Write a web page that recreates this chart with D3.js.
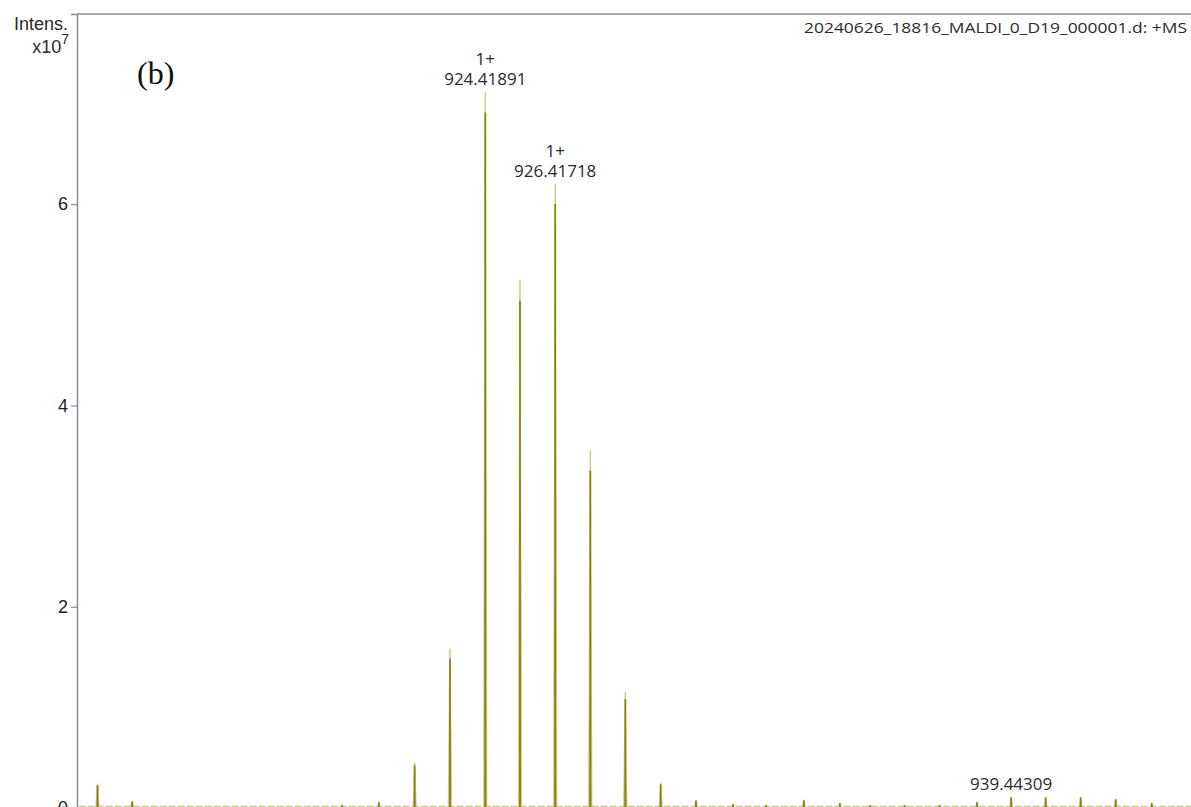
<!DOCTYPE html>
<html>
<head>
<meta charset="utf-8">
<script src="https://cdn.jsdelivr.net/npm/d3@7"></script>
<style>
  body { margin: 0; background: #fff; }
  svg { display: block; }
  text { fill: #2b2b2b; }
</style>
</head>
<body>
<div id="chart"></div>
<script>
// spectrum data (m/z, intensity in 1e7)
const peakMz = [913.34, 914.33, 920.33, 921.38, 922.40, 923.41, 924.41891, 925.41, 926.41718,
                927.42, 928.42, 929.43, 930.44, 931.50, 932.44, 933.52, 934.55, 935.41,
                936.40, 937.40, 938.47, 939.44309, 940.43, 941.43, 942.43, 943.46];
const peakIntens = [0.24, 0.07, 0.03, 0.06, 0.45, 1.58, 7.11, 5.24, 6.20,
                    3.55, 1.15, 0.25, 0.08, 0.04, 0.03, 0.08, 0.05, 0.03,
                    0.03, 0.03, 0.06, 0.11, 0.11, 0.11, 0.09, 0.05];
const yTicks = [0, 2, 4, 6];
const labels = [
    { mz: 924.41891, text: ['1+', '924.41891'] },
    { mz: 926.41718, text: ['1+', '926.41718'] },
    { mz: 939.44309, text: ['939.44309'] }
];
const title = '20240626_18816_MALDI_0_D19_000001.d: +MS';

const width = 1191, height = 807;
const plotLeft = 77, plotTop = 14, plotBottom = 808;

const svg = d3.select('#chart').append('svg')
    .attr('width', width)
    .attr('height', height);

const x = d3.scaleLinear().domain([912.754, 944.582]).range([plotLeft, width]);
const y = d3.scaleLinear().domain([0, 7.89]).range([plotBottom, plotTop]);

const peaks = peakMz.map((mz, i) => ({ mz, v: peakIntens[i] }));

// baseline noise
svg.append('line')
    .attr('x1', x(912.8)).attr('x2', width)
    .attr('y1', y(0.015)).attr('y2', y(0.015))
    .attr('stroke', '#c9c98c')
    .attr('stroke-width', 1.5)
    .attr('stroke-dasharray', '7,2');

// peaks: light envelope + dark core
const line = d3.line().x(d => x(d[0])).y(d => y(d[1]));

svg.append('g')
    .selectAll('path')
    .data(peaks)
    .join('path')
    .attr('d', d => line([[d.mz - 0.05, 0], [d.mz - 0.008, d.v], [d.mz + 0.008, d.v], [d.mz + 0.05, 0]]))
    .attr('fill', '#b9b96e')
    .attr('stroke', '#cbcb94')
    .attr('stroke-width', 0.8);

svg.append('g')
    .selectAll('line')
    .data(peaks)
    .join('line')
    .attr('x1', d => x(d.mz)).attr('x2', d => x(d.mz))
    .attr('y1', y(0))
    .attr('y2', d => y(d.v) + Math.min(20, (y(0) - y(d.v)) * 0.06))
    .attr('stroke', '#858500')
    .attr('stroke-width', 1.7);

// frame: left axis + top border
svg.append('line')
    .attr('x1', plotLeft).attr('x2', width)
    .attr('y1', plotTop).attr('y2', plotTop)
    .attr('stroke', '#8a8a8a').attr('stroke-width', 1.5);

const yAxis = d3.axisLeft(y).tickValues(yTicks).tickSize(6).tickPadding(3).tickFormat(d3.format('d'));
const ga = svg.append('g')
    .attr('transform', `translate(${plotLeft},0)`)
    .call(yAxis);
ga.select('.domain').attr('stroke', '#8a8a8a').attr('stroke-width', 1.5);
ga.selectAll('.tick line').attr('stroke', '#777');
ga.selectAll('.tick text')
    .attr('font-family', 'Liberation Sans, Arial, sans-serif')
    .attr('font-size', 18)
    .style('fill', '#222');

// y title
const yt = svg.append('g').attr('font-family', 'Liberation Sans, Arial, sans-serif').attr('font-size', 18);
yt.append('text').attr('x', 68).attr('y', 30).attr('text-anchor', 'end').text('Intens.');
const xt = yt.append('text').attr('x', 69).attr('y', 53).attr('text-anchor', 'end');
xt.append('tspan').text('x10');
xt.append('tspan').attr('font-size', 14).attr('dy', -9).text('7');

// file name
svg.append('text')
    .attr('x', 1187).attr('y', 33)
    .attr('text-anchor', 'end')
    .attr('font-family', 'Open Sans, sans-serif')
    .attr('font-size', 15)
    .attr('textLength', 383)
    .attr('lengthAdjust', 'spacingAndGlyphs')
    .text(title);

// panel letter
svg.append('text')
    .attr('x', 137).attr('y', 84)
    .attr('font-family', 'Liberation Serif, Times New Roman, serif')
    .attr('font-size', 32)
    .style('fill', '#111')
    .text('(b)');

// peak annotations
const ann = svg.append('g')
    .selectAll('text')
    .data(labels)
    .join('text')
    .attr('text-anchor', 'middle')
    .attr('font-family', 'Open Sans, sans-serif')
    .attr('font-size', 17)
    .attr('x', d => x(d.mz));

ann.each(function (d) {
    const yTop = y(peakIntens[peakMz.indexOf(d.mz)]) - 7;
    const n = d.text.length;
    d3.select(this).selectAll('tspan')
        .data(d.text)
        .join('tspan')
        .attr('x', x(d.mz))
        .attr('y', (t, i) => yTop - (n - 1 - i) * 20)
        .text(t => t);
});
</script>
</body>
</html>
